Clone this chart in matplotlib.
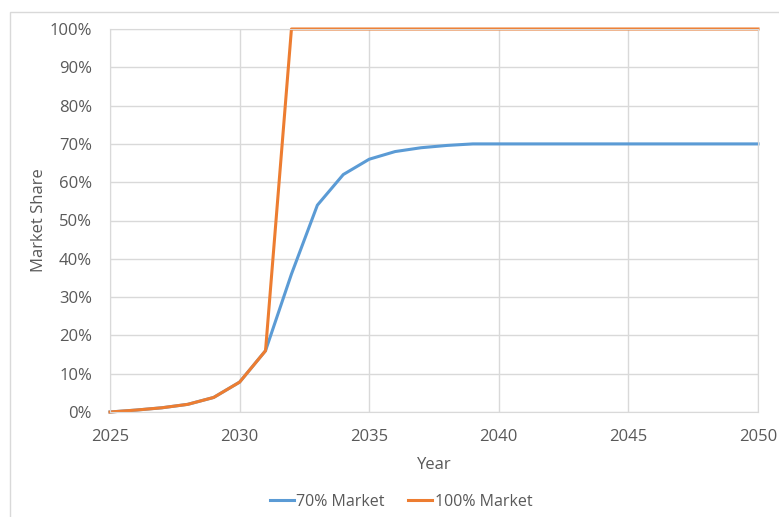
import matplotlib
matplotlib.use("Agg")
import matplotlib.pyplot as plt
from matplotlib.patches import Rectangle
from matplotlib.ticker import FuncFormatter

years = list(range(2025, 2051))
market_70 = [0, 0.5, 1.1, 2, 3.8, 7.8, 16, 36, 54, 62, 66, 68, 69, 69.6, 70,
             70, 70, 70, 70, 70, 70, 70, 70, 70, 70, 70]
market_100 = [0, 0.5, 1.1, 2, 3.8, 7.8, 16, 100, 100, 100, 100, 100, 100, 100, 100,
              100, 100, 100, 100, 100, 100, 100, 100, 100, 100, 100]

TEXT = "#595959"
GRID = "#D9D9D9"
plt.rcParams["font.family"] = ["Open Sans", "DejaVu Sans"]

fig = plt.figure(figsize=(7.79, 5.17), dpi=100)
fig.patches.append(Rectangle((10 / 779, -0.01), 1.0, 1 - 12 / 517 + 0.01,
                             transform=fig.transFigure, fill=False,
                             edgecolor=GRID, linewidth=1))
ax = fig.add_axes([110 / 779, 1 - 412 / 517, (758 - 110) / 779, (412 - 29) / 517])

ax.plot(years, market_70, color="#5B9BD5", linewidth=2.2, label="70% Market",
        clip_on=False)
ax.plot(years, market_100, color="#ED7D31", linewidth=2.2, label="100% Market",
        clip_on=False)

ax.set_xlim(2025, 2050)
ax.set_ylim(0, 100)
ax.set_xticks(range(2025, 2051, 5))
ax.set_yticks(range(0, 101, 10))
ax.yaxis.set_major_formatter(FuncFormatter(lambda v, p: f"{v:.0f}%"))
ax.grid(color=GRID, linewidth=1)
ax.set_axisbelow(True)
for s in ax.spines.values():
    s.set_color(GRID)
ax.tick_params(length=0, labelsize=12, colors=TEXT)
ax.tick_params(axis="y", pad=13)
ax.tick_params(axis="x", pad=12)
ax.set_xlabel("Year", fontsize=12, color=TEXT, labelpad=9)
ax.set_ylabel("Market Share", fontsize=12, color=TEXT, labelpad=2)

fig.legend(*ax.get_legend_handles_labels(), loc="center",
           bbox_to_anchor=(401 / 779, 1 - 502 / 517), ncol=2, frameon=False,
           fontsize=11.5, labelcolor=TEXT, handlelength=1.5, handletextpad=0.15,
           columnspacing=1.5)

fig.savefig("out.png", dpi=100)
